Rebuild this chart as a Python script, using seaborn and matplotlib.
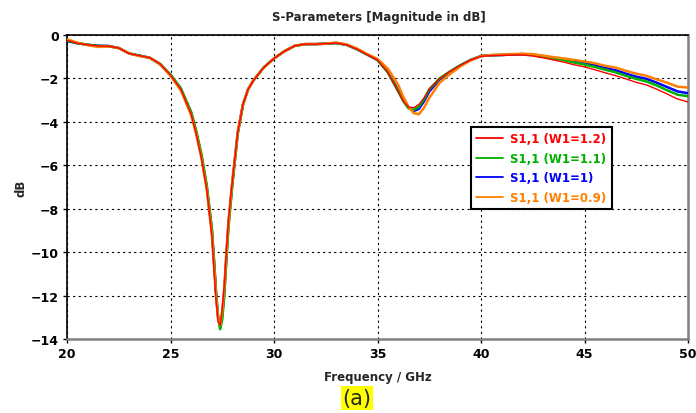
import numpy as np
import pandas as pd
import matplotlib
matplotlib.use("Agg")
import matplotlib.pyplot as plt
import seaborn as sns

freq = [20, 20.5, 21, 21.5, 22, 22.5, 23, 23.5, 24, 24.5, 25, 25.5, 26, 26.25, 26.5, 26.75,
        27, 27.1, 27.2, 27.3, 27.4, 27.5, 27.6, 27.7, 27.8, 28, 28.25, 28.5, 28.75, 29, 29.5,
        30, 30.5, 31, 31.5, 32, 32.5, 33, 33.5, 34, 34.5, 35, 35.5, 36, 36.25, 36.5, 36.75,
        37, 37.25, 37.5, 38, 38.5, 39, 39.5, 40, 40.5, 41, 41.5, 42, 42.5, 43, 43.5, 44,
        44.5, 45, 45.5, 46, 46.5, 47, 47.5, 48, 48.5, 49, 49.5, 50]

s11_w1 = [-0.28, -0.38, -0.45, -0.5, -0.5, -0.6, -0.85, -0.95, -1.05, -1.35, -1.85, -2.5, -3.6, -4.5, -5.6, -7.0,
          -9.0, -10.4, -11.9, -13.0, -13.45, -12.9, -11.8, -10.2, -8.7, -6.7, -4.5, -3.2, -2.5, -2.1, -1.5,
          -1.08, -0.75, -0.5, -0.42, -0.42, -0.4, -0.37, -0.45, -0.65, -0.9, -1.15, -1.7, -2.55, -3.0, -3.35, -3.5,
          -3.4, -3.05, -2.6, -2.05, -1.7, -1.4, -1.15, -0.97, -0.93, -0.92, -0.9, -0.88, -0.9, -0.97, -1.05, -1.12,
          -1.22, -1.3, -1.4, -1.52, -1.62, -1.78, -1.92, -2.02, -2.2, -2.4, -2.6, -2.68]

s11_w11 = [-0.25, -0.38, -0.45, -0.5, -0.52, -0.6, -0.85, -0.95, -1.05, -1.33, -1.82, -2.45, -3.55, -4.45, -5.5, -6.9,
           -8.9, -10.3, -11.8, -13.0, -13.55, -13.1, -12.0, -10.4, -8.9, -6.8, -4.55, -3.22, -2.5, -2.1, -1.5,
           -1.08, -0.75, -0.5, -0.42, -0.42, -0.4, -0.37, -0.45, -0.65, -0.9, -1.15, -1.72, -2.6, -3.05, -3.38, -3.45,
           -3.3, -2.95, -2.5, -2.0, -1.68, -1.4, -1.15, -0.97, -0.93, -0.92, -0.9, -0.88, -0.92, -1.0, -1.08, -1.16,
           -1.27, -1.36, -1.47, -1.6, -1.72, -1.88, -2.02, -2.14, -2.33, -2.55, -2.75, -2.82]

s11_w12 = [-0.25, -0.38, -0.45, -0.5, -0.52, -0.6, -0.85, -0.95, -1.05, -1.33, -1.85, -2.5, -3.65, -4.6, -5.7, -7.1,
           -9.3, -10.8, -12.2, -13.2, -13.35, -12.6, -11.5, -9.9, -8.5, -6.6, -4.45, -3.2, -2.5, -2.1, -1.5,
           -1.08, -0.75, -0.5, -0.42, -0.42, -0.4, -0.37, -0.45, -0.65, -0.9, -1.15, -1.72, -2.6, -3.05, -3.32, -3.35,
           -3.2, -2.9, -2.5, -2.0, -1.68, -1.4, -1.15, -0.98, -0.95, -0.94, -0.92, -0.92, -0.97, -1.05, -1.15, -1.25,
           -1.37, -1.47, -1.6, -1.74, -1.87, -2.02, -2.18, -2.3, -2.5, -2.72, -2.95, -3.08]

s11_w09 = [-0.2, -0.35, -0.47, -0.55, -0.52, -0.6, -0.85, -0.97, -1.05, -1.35, -1.88, -2.55, -3.7, -4.6, -5.7, -7.1,
           -9.2, -10.6, -12.0, -13.1, -13.35, -12.7, -11.6, -10.0, -8.6, -6.6, -4.45, -3.2, -2.5, -2.1, -1.5,
           -1.08, -0.75, -0.5, -0.42, -0.42, -0.4, -0.35, -0.43, -0.62, -0.88, -1.1, -1.55, -2.3, -2.85, -3.3, -3.6,
           -3.65, -3.35, -2.9, -2.2, -1.8, -1.45, -1.17, -0.97, -0.92, -0.9, -0.88, -0.86, -0.88, -0.95, -1.02, -1.08,
           -1.15, -1.22, -1.3, -1.42, -1.5, -1.65, -1.78, -1.88, -2.05, -2.2, -2.38, -2.42]

labels = ["S1,1 (W1=1.2)", "S1,1 (W1=1.1)", "S1,1 (W1=1)", "S1,1 (W1=0.9)"]
colors = ["#ff0000", "#00b000", "#0000ff", "#ff8000"]
widths = [1.0, 1.8, 1.8, 1.8]
series = [s11_w12, s11_w11, s11_w1, s11_w09]

df = pd.concat([pd.DataFrame({"f": freq, "dB": v, "label": lab}) for v, lab in zip(series, labels)])

sns.set_theme(style="white")
plt.rcParams['font.family'] = ['DejaVu Sans']

FS = 8.5
fig = plt.figure(figsize=(6.96, 4.14), dpi=100)
ax = fig.add_axes([67/696, 1-340/414, (688-67)/696, (340-36)/414])

draw_order = [2, 1, 3, 0]
for z, i in enumerate(draw_order):
    sub = df[df["label"] == labels[i]]
    sns.lineplot(data=sub, x="f", y="dB", color=colors[i], lw=widths[i], ax=ax,
                 label=labels[i], zorder=3 + z)

ax.set_xlim(20, 50)
ax.set_ylim(-14, 0)
ax.set_xticks([20, 25, 30, 35, 40, 45, 50])
ax.set_yticks([0, -2, -4, -6, -8, -10, -12, -14])
ax.grid(True, color="black", linestyle=(0, (2, 3)), linewidth=0.8)
for lbl in ax.get_xticklabels() + ax.get_yticklabels():
    lbl.set_fontweight("bold")
    lbl.set_fontsize(FS + 0.5)
ax.tick_params(axis="both", direction="out", length=3, width=1, colors="black", pad=3,
               bottom=True, left=True)
ax.spines["top"].set_color("black")
ax.spines["left"].set_color("black")
ax.spines["bottom"].set_color("#808080")
ax.spines["right"].set_color("#808080")
for s in ["top", "left"]:
    ax.spines[s].set_linewidth(1.2)
for s in ["bottom", "right"]:
    ax.spines[s].set_linewidth(1.8)

ax.set_xlabel("Frequency / GHz", fontsize=FS, fontweight="bold", labelpad=7)
ax.set_ylabel("dB", fontsize=FS, fontweight="bold", labelpad=2)

handles, labs = ax.get_legend_handles_labels()
order = [labs.index(l) for l in labels]
leg = ax.legend([handles[k] for k in order], [labs[k] for k in order],
                loc="upper left", bbox_to_anchor=((471-67)/621, 1-(128-36)/304),
                frameon=True, fancybox=False, edgecolor="black", framealpha=1,
                prop={"weight": "bold", "size": FS}, labelcolor="linecolor",
                handlelength=2.3, borderpad=0.45, borderaxespad=0,
                labelspacing=0.55, handletextpad=0.55)
leg.get_frame().set_linewidth(1.5)
for h in leg.legend_handles:
    h.set_linewidth(1.3)

fig.text(379/696, 1-17/414, "S-Parameters [Magnitude in dB]", ha="center", va="center",
         fontsize=FS, fontweight="bold")
fig.text(357/696, 1-399/414, "(a)", ha="center", va="center", fontsize=15,
         bbox=dict(boxstyle="square,pad=0.08", facecolor="#ffff00", edgecolor="none"))

fig.savefig("out.png", dpi=100)
